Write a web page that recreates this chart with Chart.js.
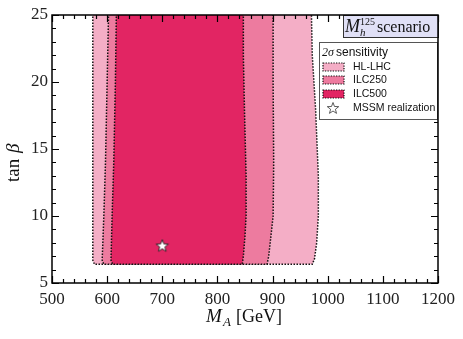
<!DOCTYPE html>
<html>
<head>
<meta charset="utf-8">
<script src="https://cdn.jsdelivr.net/npm/chart.js@4.4.0/dist/chart.umd.min.js"></script>
<style>
html, body { margin: 0; padding: 0; background: #fff; }
</style>
</head>
<body>
<canvas id="myChart" width="463" height="339"></canvas>
<script>
// sensitivity regions, traced as closed outlines (M_A in GeV, tan beta)
const hlLhcMA   = [574, 574, 577, 972, 976, 980, 983, 983, 978, 972, 970, 574];
const hlLhcTanb = [26, 6.7, 6.4, 6.4, 6.8, 8.0, 10, 13, 18, 22, 26, 26];
const ilc250MA   = [603, 600, 597, 594, 591, 594, 890, 893, 897, 901, 902, 901, 901, 603];
const ilc250Tanb = [26, 20, 14, 10, 6.7, 6.4, 6.4, 7.0, 8.5, 10, 14, 20, 26, 26];
const ilc500MA   = [617, 615, 612, 609, 607, 610, 845, 847, 850, 852, 852, 849, 847, 847, 617];
const ilc500Tanb = [26, 20, 14, 10, 6.7, 6.4, 6.4, 7.0, 8.5, 10, 13, 18, 22, 26, 26];
const realMA = [700];
const realTanb = [7.8];

const xTicks = [500, 600, 700, 800, 900, 1000, 1100, 1200];
const yTicks = [5, 10, 15, 20, 25];
const legendLabels = ['HL-LHC', 'ILC250', 'ILC500', 'MSSM realization'];
const colors = ['#f4aec6', '#ed7b9f', '#e22563'];

const serif = '"Liberation Serif", "DejaVu Serif", serif';
const sans = '"Liberation Sans", Arial, sans-serif';

function toPoints(xs, ys) {
    return xs.map((x, i) => ({ x: x, y: ys[i] }));
}

function starPath(ctx, cx, cy, r) {
    ctx.beginPath();
    for (let i = 0; i < 10; i++) {
        const rr = i % 2 === 0 ? r : r * 0.42;
        const a = -Math.PI / 2 + i * Math.PI / 5;
        const px = cx + rr * Math.cos(a), py = cy + rr * Math.sin(a);
        if (i === 0) ctx.moveTo(px, py); else ctx.lineTo(px, py);
    }
    ctx.closePath();
}

// filled white star used as the point marker
const starImg = document.createElement('canvas');
starImg.width = 16; starImg.height = 16;
(function () {
    const c = starImg.getContext('2d');
    starPath(c, 8, 8.6, 6.5);
    c.fillStyle = '#fff';
    c.fill();
    c.lineWidth = 0.9;
    c.strokeStyle = '#222';
    c.stroke();
})();

function regionDataset(label, xs, ys, color, order) {
    return {
        label: label,
        data: toPoints(xs, ys),
        backgroundColor: color,
        borderColor: '#111',
        borderWidth: 1.5,
        borderDash: [1.5, 1.5],
        fill: 'shape',
        pointRadius: 0,
        tension: 0,
        order: order
    };
}

const frame = {
    id: 'frame',
    afterDatasetsDraw(chart) {
        const ctx = chart.ctx;
        const a = chart.chartArea;
        const xs = chart.scales.x, ys = chart.scales.y;
        ctx.save();
        ctx.strokeStyle = '#000';

        // inward ticks on all four sides
        ctx.lineWidth = 1.2;
        for (let v = 500; v <= 1200; v += 20) {
            const px = Math.round(xs.getPixelForValue(v)) + 0.5;
            const len = v % 100 === 0 ? 7 : 4;
            ctx.beginPath();
            ctx.moveTo(px, a.bottom); ctx.lineTo(px, a.bottom - len);
            ctx.moveTo(px, a.top); ctx.lineTo(px, a.top + len);
            ctx.stroke();
        }
        for (let v = 5; v <= 25; v += 1) {
            const py = Math.round(ys.getPixelForValue(v)) + 0.5;
            const len = v % 5 === 0 ? 7 : 4;
            ctx.beginPath();
            ctx.moveTo(a.left, py); ctx.lineTo(a.left + len, py);
            ctx.moveTo(a.right, py); ctx.lineTo(a.right - len, py);
            ctx.stroke();
        }

        // scenario box in the top right corner
        const bx = 343, by = a.top, bw = a.right - 343, bh = 22;
        ctx.fillStyle = '#e0e0f6';
        ctx.fillRect(bx, by, bw, bh);
        ctx.lineWidth = 1;
        ctx.strokeStyle = '#333';
        ctx.strokeRect(bx + 0.5, by + 0.5, bw, bh);
        ctx.fillStyle = '#111';
        ctx.textBaseline = 'alphabetic';
        ctx.font = 'italic 18px ' + serif;
        ctx.fillText('M', 345, 32);
        ctx.font = '10px ' + serif;
        ctx.fillText('125', 360, 25);
        ctx.font = 'italic 11px ' + serif;
        ctx.fillText('h', 360, 36);
        ctx.font = '16px ' + serif;
        ctx.fillText('scenario', 377, 32);

        // legend
        const lx = 319, ly = 42, lw = a.right - 319 - 1, lh = 77;
        ctx.fillStyle = '#fff';
        ctx.fillRect(lx, ly, lw, lh);
        ctx.strokeStyle = '#555';
        ctx.strokeRect(lx + 0.5, ly + 0.5, lw, lh);
        ctx.fillStyle = '#111';
        ctx.textBaseline = 'middle';
        ctx.font = 'italic 12px ' + serif;
        ctx.fillText('2', 322, 53);
        ctx.fillText('\u03c3', 328, 53);
        ctx.font = '12px ' + sans;
        ctx.fillText('sensitivity', 336, 53);
        const rows = [67, 80, 94];
        ctx.font = '10.5px ' + sans;
        for (let i = 0; i < 3; i++) {
            ctx.fillStyle = colors[i];
            ctx.fillRect(323, rows[i] - 4, 21, 8);
            ctx.setLineDash([1.3, 1.3]);
            ctx.strokeStyle = '#111';
            ctx.lineWidth = 1.2;
            ctx.strokeRect(323, rows[i] - 4, 21, 8);
            ctx.setLineDash([]);
            ctx.fillStyle = '#111';
            ctx.fillText(legendLabels[i], 353, rows[i]);
        }
        starPath(ctx, 333, 108.5, 6);
        ctx.fillStyle = '#fff';
        ctx.fill();
        ctx.lineWidth = 0.8;
        ctx.strokeStyle = '#333';
        ctx.stroke();
        ctx.fillStyle = '#111';
        ctx.fillText(legendLabels[3], 353, 108);

        // axis frame
        ctx.lineWidth = 1.5;
        ctx.strokeStyle = '#000';
        ctx.strokeRect(a.left, a.top, a.right - a.left, a.bottom - a.top);

        // axis titles
        ctx.fillStyle = '#111';
        ctx.textBaseline = 'alphabetic';
        ctx.font = 'italic 19px ' + serif;
        ctx.fillText('M', 206, 322);
        ctx.font = 'italic 13px ' + serif;
        ctx.fillText('A', 223, 326);
        ctx.font = '18px ' + serif;
        ctx.fillText('[GeV]', 236, 322);

        ctx.translate(19, 155);
        ctx.rotate(-Math.PI / 2);
        ctx.textAlign = 'left';
        ctx.font = '19px ' + serif;
        ctx.fillText('tan', -27, 0);
        ctx.font = 'italic 19px ' + serif;
        ctx.fillText('\u03b2', 2, 0);
        ctx.restore();
    }
};

const ctx = document.getElementById('myChart').getContext('2d');
const myChart = new Chart(ctx, {
    type: 'line',
    data: {
        datasets: [
            {
                label: legendLabels[3],
                data: toPoints(realMA, realTanb),
                showLine: false,
                pointStyle: starImg,
                pointRadius: 7,
                order: 0
            },
            regionDataset(legendLabels[2], ilc500MA, ilc500Tanb, colors[2], 1),
            regionDataset(legendLabels[1], ilc250MA, ilc250Tanb, colors[1], 2),
            regionDataset(legendLabels[0], hlLhcMA, hlLhcTanb, colors[0], 3)
        ]
    },
    options: {
        responsive: false,
        animation: false,
        layout: { padding: { top: 15, right: 25, left: 0, bottom: 0 } },
        scales: {
            x: {
                type: 'linear',
                min: 500,
                max: 1200,
                afterFit(s) { s.height = 56; },
                afterBuildTicks(s) { s.ticks = xTicks.map(v => ({ value: v })); },
                grid: { display: false, drawTicks: false, tickLength: 0 },
                border: { display: false },
                ticks: {
                    color: '#222', padding: 6, maxRotation: 0,
                    font: { family: serif, size: 17 },
                    callback: v => String(v)
                }
            },
            y: {
                type: 'linear',
                min: 5,
                max: 25,
                afterFit(s) { s.width = 52; },
                afterBuildTicks(s) { s.ticks = yTicks.map(v => ({ value: v })); },
                grid: { display: false, drawTicks: false, tickLength: 0 },
                border: { display: false },
                ticks: {
                    color: '#222', padding: 4,
                    font: { family: serif, size: 17 },
                    callback: v => String(v)
                }
            }
        },
        plugins: {
            legend: { display: false },
            tooltip: { enabled: false }
        }
    },
    plugins: [frame]
});
</script>
</body>
</html>
